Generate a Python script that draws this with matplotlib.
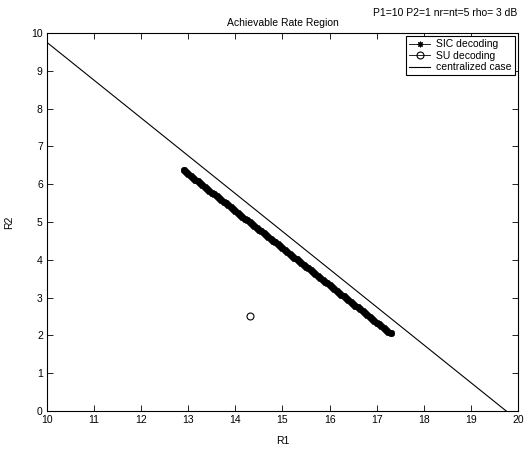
import matplotlib
matplotlib.use("Agg")
import matplotlib.pyplot as plt

# SIC decoding boundary
sic_r1 = [12.90, 12.95, 13.00, 13.05, 13.10, 13.15, 13.20, 13.25, 13.30, 13.35,
          13.40, 13.45, 13.50, 13.55, 13.60, 13.65, 13.70, 13.75, 13.80, 13.85,
          13.90, 13.95, 14.00, 14.05, 14.10, 14.15, 14.20, 14.25, 14.30, 14.35,
          14.40, 14.45, 14.50, 14.55, 14.60, 14.65, 14.70, 14.75, 14.80, 14.85,
          14.90, 14.95, 15.00, 15.05, 15.10, 15.15, 15.20, 15.25, 15.30, 15.35,
          15.40, 15.45, 15.50, 15.55, 15.60, 15.65, 15.70, 15.75, 15.80, 15.85,
          15.90, 15.95, 16.00, 16.05, 16.10, 16.15, 16.20, 16.25, 16.30, 16.35,
          16.40, 16.45, 16.50, 16.55, 16.60, 16.65, 16.70, 16.75, 16.80, 16.85,
          16.90, 16.95, 17.00, 17.05, 17.10, 17.15, 17.20, 17.25, 17.30]
sic_r2 = [6.37, 6.32, 6.27, 6.22, 6.17, 6.12, 6.08, 6.03, 5.98, 5.93,
          5.88, 5.83, 5.78, 5.73, 5.68, 5.63, 5.58, 5.54, 5.49, 5.44,
          5.39, 5.34, 5.29, 5.24, 5.19, 5.14, 5.09, 5.04, 5.00, 4.95,
          4.90, 4.85, 4.80, 4.75, 4.70, 4.65, 4.60, 4.55, 4.50, 4.46,
          4.41, 4.36, 4.31, 4.26, 4.21, 4.16, 4.11, 4.06, 4.01, 3.96,
          3.92, 3.87, 3.82, 3.77, 3.72, 3.67, 3.62, 3.57, 3.52, 3.47,
          3.42, 3.38, 3.33, 3.28, 3.23, 3.18, 3.13, 3.08, 3.03, 2.98,
          2.93, 2.88, 2.84, 2.79, 2.74, 2.69, 2.64, 2.59, 2.54, 2.49,
          2.44, 2.39, 2.34, 2.30, 2.25, 2.20, 2.15, 2.10, 2.05]

su_r1 = [14.3]
su_r2 = [2.5]

cent_r1 = [10.0, 19.75]
cent_r2 = [9.75, 0.0]

plt.rcParams["font.family"] = ["Liberation Sans", "DejaVu Sans"]
plt.rcParams["font.size"] = 7.5

fig = plt.figure(figsize=(5.28, 4.5), dpi=100)
ax = fig.add_axes([0.089, 0.0867, 0.892, 0.84])

ax.plot(sic_r1, sic_r2, color="black", linewidth=0.6, marker=(8, 2, 0),
        markersize=5, markeredgewidth=1.3, label="SIC decoding")
ax.plot(su_r1, su_r2, color="black", linewidth=0.6, marker="o",
        markersize=5, markerfacecolor="none", markeredgewidth=0.8,
        label="SU decoding")
ax.plot(cent_r1, cent_r2, color="black", linewidth=0.8, label="centralized case")

ax.set_xlim(10, 20)
ax.set_ylim(0, 10)
ax.set_xticks(range(10, 21))
ax.set_yticks(range(0, 11))
ax.tick_params(direction="in", top=True, right=True, length=4, width=0.6, pad=3)
for s in ax.spines.values():
    s.set_linewidth(0.8)

ax.set_xlabel("R1", labelpad=8)
ax.set_ylabel("R2", labelpad=12)
ax.set_title("Achievable Rate Region", fontsize=7.5, pad=5)
fig.text(0.979, 0.972, "P1=10 P2=1 nr=nt=5 rho= 3 dB", ha="right", va="center")

leg = ax.legend(loc="upper right", fancybox=False, framealpha=1,
                edgecolor="black", borderpad=0.3, labelspacing=0.15,
                handlelength=2.0, handletextpad=0.6, borderaxespad=0.3)
leg.get_frame().set_linewidth(0.8)
# keep the legend marker small like the original asterisk
leg.legend_handles[0].set_markersize(4)
leg.legend_handles[0].set_markeredgewidth(0.8)

fig.savefig("out.png", dpi=100)
